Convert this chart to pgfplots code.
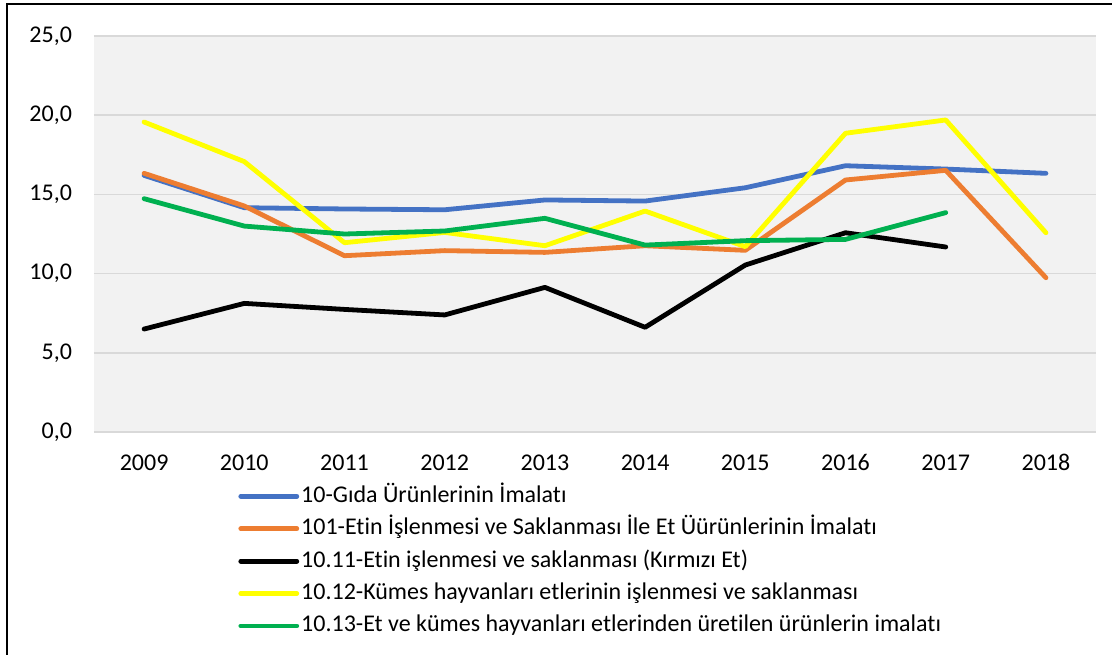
\documentclass[border=0pt]{standalone}
\usepackage{pgfplots}
\pgfplotsset{compat=1.18}
\usepackage{fontspec}
\setmainfont{Carlito}[Ligatures=NoCommon]
\definecolor{cblue}{HTML}{4472C4}
\definecolor{corange}{HTML}{ED7D31}
\definecolor{cyellow}{HTML}{FFFF00}
\definecolor{cgreen}{HTML}{00B050}
\definecolor{bgg}{HTML}{F2F2F2}
\definecolor{gridg}{HTML}{D9D9D9}
\begin{document}
\begin{tikzpicture}
\path[use as bounding box] (-47pt,-111pt) rectangle (509pt,216pt);
\draw[line width=1pt] (-43.5pt,-112pt) -- (-43.5pt,214pt) -- (510pt,214pt);
\begin{axis}[
  at={(0pt,0pt)}, anchor=south west,
  scale only axis, width=501pt, height=198pt,
  xmin=-0.5, xmax=9.5, ymin=0, ymax=25,
  xtick={0,...,9},
  xticklabels={2009,2010,2011,2012,2013,2014,2015,2016,2017,2018},
  ytick={0,5,10,15,20,25},
  yticklabel style={/pgf/number format/use comma, /pgf/number format/fixed, /pgf/number format/fixed zerofill, /pgf/number format/precision=1, xshift=-7.5pt},
  /pgf/number format/assume math mode=true,
  ymajorgrids, major grid style={draw=gridg, line width=0.75pt},
  axis line style={draw=none}, tick style={draw=none},
  axis background/.style={fill=bgg},
  ticklabel style={font=\fontsize{12}{14}\selectfont},
  xticklabel style={yshift=-7.5pt, text height=8pt, text depth=0pt},
  every axis plot/.append style={line width=2.4pt, line cap=round, line join=round, mark=none},
  legend image code/.code={\draw[#1] (0pt,0pt) -- (28pt,0pt);},
  legend cell align=left,
  legend style={at={(0.1437,-0.126)}, anchor=north west, draw=none, fill=none,
    font=\fontsize{12}{14}\selectfont, inner sep=0pt, row sep=2.2pt,
    nodes={inner sep=1pt, text height=9pt, text depth=3pt}},
]
\addplot[cblue] coordinates {(0,16.2) (1,14.16) (2,14.08) (3,14.03) (4,14.65) (5,14.58) (6,15.42) (7,16.81) (8,16.6) (9,16.33)};
\addlegendentry{10-Gıda Ürünlerinin İmalatı}
\addplot[corange] coordinates {(0,16.33) (1,14.27) (2,11.13) (3,11.45) (4,11.34) (5,11.76) (6,11.47) (7,15.91) (8,16.52) (9,9.74)};
\addlegendentry{101-Etin İşlenmesi ve Saklanması İle Et Üürünlerinin İmalatı}
\addplot[black] coordinates {(0,6.5) (1,8.12) (2,7.74) (3,7.39) (4,9.13) (5,6.61) (6,10.54) (7,12.58) (8,11.68)};
\addlegendentry{10.11-Etin işlenmesi ve saklanması (Kırmızı Et)}
\addplot[cyellow] coordinates {(0,19.57) (1,17.07) (2,11.95) (3,12.6) (4,11.76) (5,13.95) (6,11.7) (7,18.86) (8,19.7) (9,12.58)};
\addlegendentry{10.12-Kümes hayvanları etlerinin işlenmesi ve saklanması}
\addplot[cgreen] coordinates {(0,14.73) (1,13.0) (2,12.5) (3,12.69) (4,13.49) (5,11.8) (6,12.08) (7,12.16) (8,13.85)};
\addlegendentry{10.13-Et ve kümes hayvanları etlerinden üretilen ürünlerin imalatı}
\end{axis}
\end{tikzpicture}
\end{document}
